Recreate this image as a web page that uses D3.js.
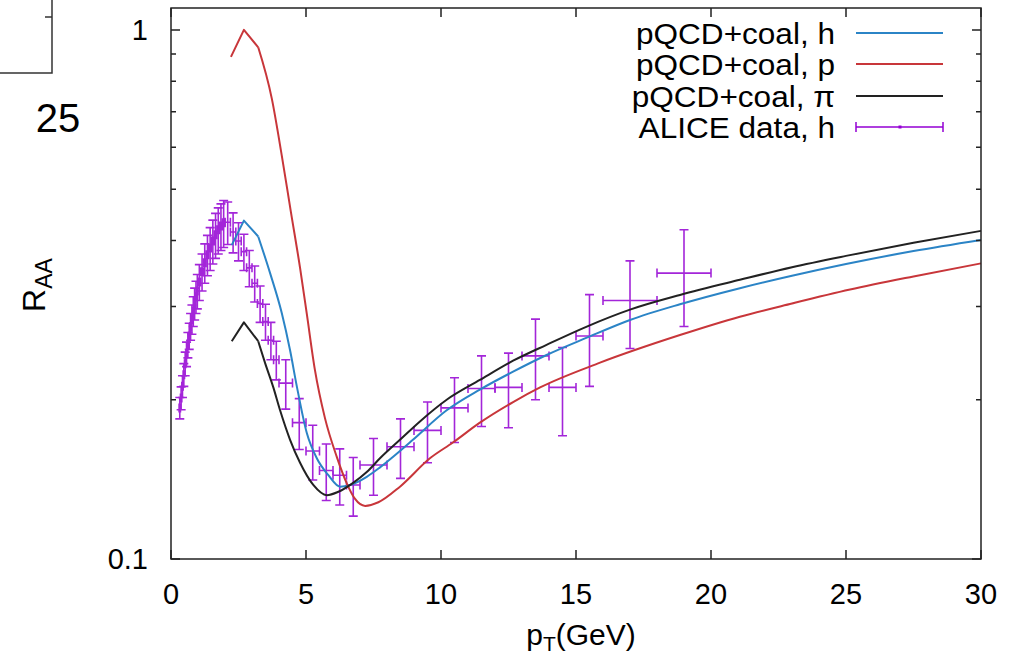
<!DOCTYPE html>
<html><head><meta charset="utf-8">
<script src="https://cdn.jsdelivr.net/npm/d3@7"></script>
<style>
body{margin:0;background:#fff}
text{font-family:"Liberation Sans",Arial,sans-serif;fill:#000}
</style>
</head><body>
<svg id="c" width="1022" height="656"></svg>
<script>
// ---------- data ----------
const hPt = [2.25,2.70,3.23,3.67,4.10,4.41,4.66,5.03,5.40,5.83,6.26,6.63,7.25,7.74,8.48,8.96,10.21,11.44,12.67,13.91,15.40,17.0,18.85,21.07,23,25,27.5,30];
const hR  = [0.392,0.436,0.407,0.347,0.292,0.248,0.212,0.173,0.155,0.144,0.137,0.138,0.143,0.149,0.160,0.168,0.191,0.209,0.226,0.243,0.262,0.283,0.303,0.325,0.343,0.361,0.382,0.401];

const pPt = [2.22,2.70,3.23,3.73,4.10,4.44,4.78,5.03,5.33,5.70,6.14,6.51,6.81,7.19,7.68,8.48,9.59,10.44,11.44,12.67,13.67,15.89,18.85,21.07,23,25.15,27.5,30];
const pR  = [0.889,1.00,0.927,0.743,0.580,0.453,0.355,0.2905,0.2277,0.1848,0.156,0.139,0.130,0.126,0.128,0.137,0.155,0.166,0.181,0.198,0.211,0.235,0.265,0.287,0.304,0.323,0.342,0.362];

const piPt = [2.25,2.70,3.23,3.48,3.79,4.04,4.41,4.78,5.27,5.77,6.20,6.72,7.25,7.74,8.48,9.22,10.21,11.44,12.67,13.91,15.40,17.0,18.85,21.07,23,25,27.5,30];
const piR  = [0.258,0.280,0.258,0.235,0.211,0.191,0.168,0.152,0.138,0.132,0.134,0.139,0.146,0.155,0.168,0.182,0.200,0.218,0.237,0.254,0.275,0.296,0.3155,0.337,0.356,0.374,0.396,0.417];

const dPt  = [0.325,0.375,0.425,0.475,0.525,0.575,0.625,0.675,0.725,0.775,0.825,0.875,0.925,0.975,
              1.05,1.15,1.25,1.35,1.45,1.55,1.65,1.75,1.85,1.95,
              2.1,2.3,2.5,2.7,2.9,3.1,3.3,3.5,3.7,3.9,
              4.25,4.75,5.25,5.75,6.25,6.75,7.5,8.5,9.5,10.5,11.5,12.5,13.5,14.5,15.5,17,19];
const dPtErr = [0.025,0.025,0.025,0.025,0.025,0.025,0.025,0.025,0.025,0.025,0.025,0.025,0.025,0.025,
              0.05,0.05,0.05,0.05,0.05,0.05,0.05,0.05,0.05,0.05,
              0.1,0.1,0.1,0.1,0.1,0.1,0.1,0.1,0.1,0.1,
              0.25,0.25,0.25,0.25,0.25,0.25,0.5,0.5,0.5,0.5,0.5,0.5,0.5,0.5,0.5,1,1];
const dR   = [0.193,0.2015,0.212,0.223,0.234,0.244,0.254,0.264,0.275,0.284,0.294,0.304,0.313,0.321,
              0.334,0.349,0.363,0.376,0.387,0.399,0.410,0.419,0.426,0.432,
              0.433,0.415,0.399,0.381,0.355,0.332,0.304,0.281,0.259,0.238,
              0.215,0.181,0.160,0.147,0.144,0.138,0.1505,0.163,0.175,0.193,0.210,0.211,0.242,0.211,0.264,0.308,0.347];
const dErr = [0.009,0.010,0.010,0.011,0.012,0.013,0.014,0.015,0.016,0.018,0.019,0.021,0.022,0.024,
              0.026,0.028,0.031,0.033,0.036,0.038,0.040,0.042,0.043,0.044,
              0.040,0.036,0.033,0.030,0.028,0.026,0.024,0.022,0.021,0.020,
              0.023,0.020,0.019,0.018,0.0175,0.0175,0.0185,0.021,0.023,0.027,0.032,0.034,0.042,0.040,0.052,0.058,0.072];

const xTicks = [0,5,10,15,20,25,30];
const yMajor = [0.1,1];
const yMinor = [0.2,0.3,0.4,0.5,0.6,0.7,0.8,0.9];

const legendLabels = ["pQCD+coal, h","pQCD+coal, p","pQCD+coal, \u03c0","ALICE data, h"];
const colH = "#2b84c6", colP = "#c8363a", colPi = "#222222", colD = "#9400d3";

// ---------- layout ----------
const L = 171, R = 981, T = 8, B = 559;
const svg = d3.select("#c");
const x = d3.scaleLinear().domain([0,30]).range([L,R]);
const y = d3.scaleLog().domain([0.1,1.1]).range([B,T]);

// fragment of neighbouring panel (top-left)
svg.append("path").attr("d","M52,0V73H0M52,17H45").attr("fill","none").attr("stroke","#333").attr("stroke-width",1.5);
svg.append("text").attr("x",58).attr("y",132).attr("text-anchor","middle").attr("font-size",40).text("25");

// curves: sharp first segment (up to the kink), smooth afterwards
function drawCurve(xs, ys, col){
  const lin = d3.line().x(i=>x(xs[i])).y(i=>y(ys[i]));
  const smo = d3.line().x(i=>x(xs[i])).y(i=>y(ys[i])).curve(d3.curveMonotoneX);
  const idx = d3.range(xs.length);
  const gg = svg.append("g").attr("fill","none").attr("stroke",col).attr("stroke-width",2).attr("stroke-linejoin","round");
  gg.append("path").attr("d", lin(idx.slice(0,3)));
  gg.append("path").attr("d", smo(idx.slice(2)));
}

// data error bars
const cap = 4.5;
const eb = svg.append("g").attr("stroke",colD).attr("stroke-width",1.6).attr("fill","none").attr("opacity",0.85);
dPt.forEach((p,i)=>{
  const cx = x(p), cy = y(dR[i]);
  const y1 = y(dR[i]-dErr[i]), y2 = y(dR[i]+dErr[i]);
  const x1 = x(p-dPtErr[i]), x2 = x(p+dPtErr[i]);
  eb.append("path").attr("d",
    `M${cx},${y1}V${y2}M${cx-cap},${y1}H${cx+cap}M${cx-cap},${y2}H${cx+cap}` +
    `M${x1},${cy}H${x2}M${x1},${cy-cap}V${cy+cap}M${x2},${cy-cap}V${cy+cap}`);
});
drawCurve(hPt,hR,colH);
drawCurve(pPt,pR,colP);
drawCurve(piPt,piR,colPi);

// frame & ticks
const ax = svg.append("g").attr("stroke","#222").attr("stroke-width",1.5).attr("fill","none");
ax.append("rect").attr("x",L).attr("y",T).attr("width",R-L).attr("height",B-T);
xTicks.forEach(v=>{
  const px = x(v);
  ax.append("path").attr("d",`M${px},${B}V${B-9}M${px},${T}V${T+9}`);
});
yMajor.forEach(v=>{
  const py = y(v);
  ax.append("path").attr("d",`M${L},${py}H${L+9}M${R},${py}H${R-9}`);
});
yMinor.forEach(v=>{
  const py = y(v);
  ax.append("path").attr("d",`M${L},${py}H${L+5}M${R},${py}H${R-5}`);
});

// tick labels
xTicks.forEach(v=>{
  svg.append("text").attr("x",x(v)).attr("y",604).attr("text-anchor","middle").attr("font-size",29).text(v);
});
yMajor.forEach(v=>{
  svg.append("text").attr("x",148).attr("y",y(v)+10).attr("text-anchor","end").attr("font-size",29).text(v);
});

// axis titles
const xt = svg.append("text").attr("x",581).attr("y",645).attr("text-anchor","middle").attr("font-size",30);
xt.append("tspan").text("p");
xt.append("tspan").attr("font-size",21).attr("dy",6).text("T");
xt.append("tspan").attr("dy",-6).text("(GeV)");
const yt = svg.append("text").attr("transform","translate(45,285) rotate(-90)").attr("text-anchor","middle").attr("font-size",32);
yt.append("tspan").text("R");
yt.append("tspan").attr("font-size",23).attr("dy",7).text("AA");

// legend
const legY = [33,64,96,127];
const legCol = [colH,colP,colPi,colD];
legendLabels.forEach((t,i)=>{
  svg.append("text").attr("transform",`translate(835,${legY[i]+10.5}) scale(1.07,1)`).attr("text-anchor","end").attr("font-size",29.5).text(t);
  if(i<3){
    svg.append("path").attr("d",`M856,${legY[i]}H943`).attr("stroke",legCol[i]).attr("stroke-width",2);
  } else {
    svg.append("path").attr("d",`M856,${legY[i]}H943M856,${legY[i]-5}V${legY[i]+5}M943,${legY[i]-5}V${legY[i]+5}`)
      .attr("stroke",colD).attr("stroke-width",1.5).attr("fill","none");
    svg.append("rect").attr("x",898.5).attr("y",legY[i]-1.5).attr("width",3).attr("height",3).attr("fill",colD);
  }
});
</script>
</body></html>
